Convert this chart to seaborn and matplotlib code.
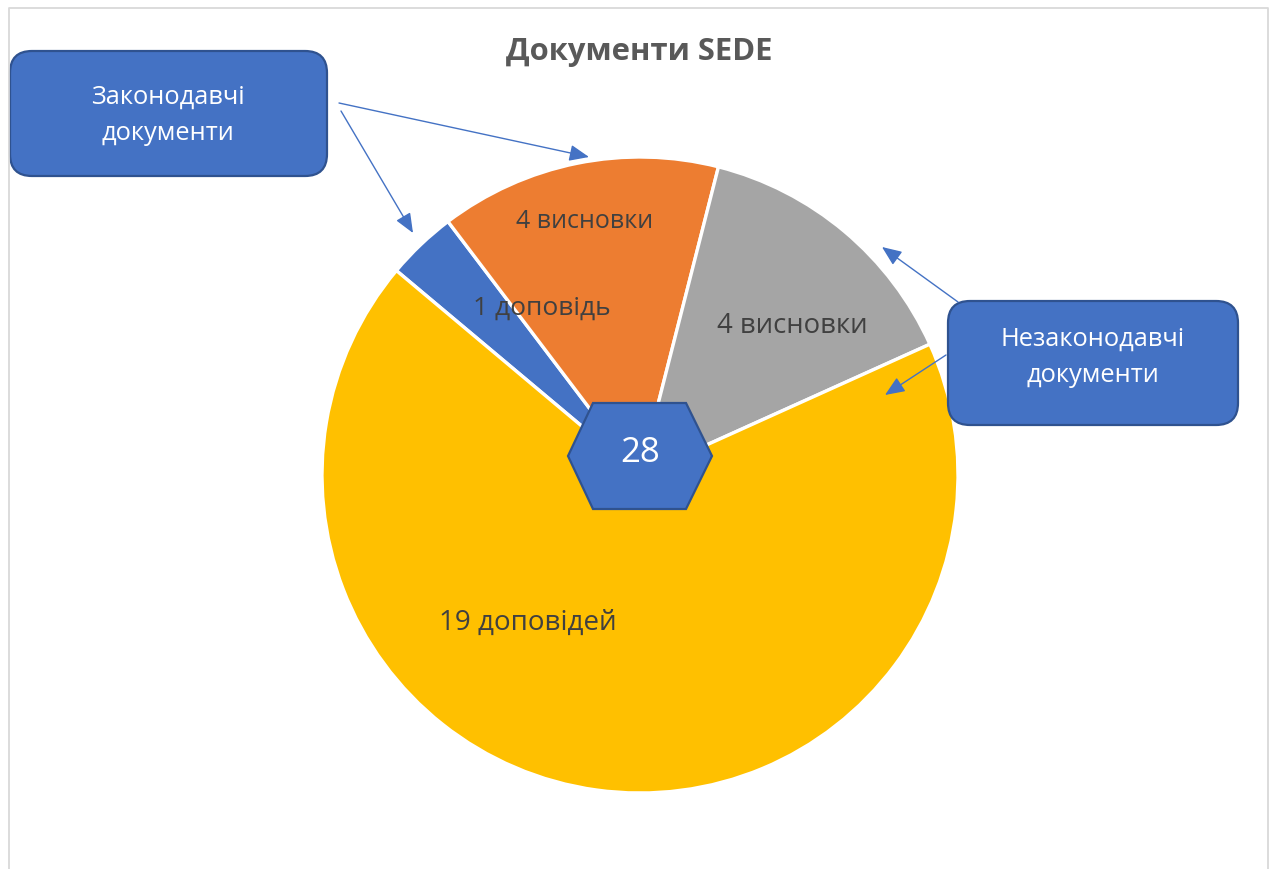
import matplotlib
matplotlib.use("Agg")
import matplotlib.pyplot as plt
import seaborn as sns
from matplotlib.patches import FancyBboxPatch, Polygon
from matplotlib.lines import Line2D

# ---- data ----
categories = ["Законодавчі доповіді", "Законодавчі висновки", "Незаконодавчі висновки", "Незаконодавчі доповіді"]
values = [1, 4, 4, 19]
slice_labels = ["1 доповідь", "4 висновки", "4 висновки", "19 доповідей"]
slice_colors = ["#4472C4", "#ED7D31", "#A5A5A5", "#FFC000"]
title = "Документи SEDE"
callout_left = "Законодавчі\nдокументи"
callout_right = "Незаконодавчі\nдокументи"
total_label = str(sum(values))

sns.set_theme(style="white")
plt.rcParams["font.family"] = ["Open Sans", "DejaVu Sans"]

W, H = 1275, 869
fig = plt.figure(figsize=(W / 100, H / 100), dpi=100)
fig.patch.set_facecolor("white")

# pie axes: centre (640, 475) px, radius 318 px
cx, cy, R = 640, 475, 318
half = R * 1.1
ax = fig.add_axes([(cx - half) / W, (H - cy - half) / H, 2 * half / W, 2 * half / H])
palette = sns.color_palette(slice_colors)
ax.pie(values, colors=palette, startangle=140, counterclock=False, radius=1,
       wedgeprops=dict(edgecolor="white", linewidth=2.4))
ax.set_xlim(-1.1, 1.1)
ax.set_ylim(-1.1, 1.1)
ax.set_aspect("equal")
ax.axis("off")

# overlay in pixel coordinates
ov = fig.add_axes([0, 0, 1, 1], zorder=5)
ov.set_xlim(0, W)
ov.set_ylim(H, 0)
ov.axis("off")

# border
bc = "#D9D9D9"
ov.add_line(Line2D([8.5, 8.5, 1268, 1268], [869, 7.5, 7.5, 869], color=bc, lw=1.3))

# title
ov.text(639, 52, title, ha="center", va="center", fontsize=22.3, fontweight="bold", color="#595959")

# slice labels
label_pos = [(542, 308), (585, 221), (792, 326), (528, 623)]
label_sizes = [19, 18, 19.8, 20]
for (x, y), t, s in zip(label_pos, slice_labels, label_sizes):
    ov.text(x, y, t, ha="center", va="center", fontsize=s, color="#404040")

# hexagon
hexv = [(568, 456), (593, 403), (686, 403), (712, 456), (686, 509), (593, 509)]
ov.add_patch(Polygon(hexv, closed=True, facecolor="#4472C4", edgecolor="#2F528F", lw=1.6))
ov.text(640, 453, total_label, ha="center", va="center", fontsize=25, color="white")

# callout boxes
for (x0, y0, x1, y1), txt, tx, ty in [((10, 51, 327, 176), callout_left, 168, 115),
                                      ((948, 301, 1238, 425), callout_right, 1093, 357)]:
    ov.add_patch(FancyBboxPatch((x0, y0), x1 - x0, y1 - y0,
                                boxstyle="round,pad=0,rounding_size=22",
                                facecolor="#4472C4", edgecolor="#2F528F", lw=1.6))
    ov.text(tx, ty, txt, ha="center", va="center", fontsize=18.4, color="white",
            linespacing=1.6)

# arrows
arrows = [((339, 103), (589, 157)), ((341, 111), (413, 233)),
          ((958, 302), (882, 247)), ((946, 355), (885, 395))]
for (sx, sy), (ex, ey) in arrows:
    ov.annotate("", xy=(ex, ey), xytext=(sx, sy),
                arrowprops=dict(arrowstyle="-|>,head_length=0.6,head_width=0.25",
                                color="#4472C4", lw=1.0, mutation_scale=20,
                                shrinkA=0, shrinkB=0))

fig.savefig("out.png", dpi=100)
